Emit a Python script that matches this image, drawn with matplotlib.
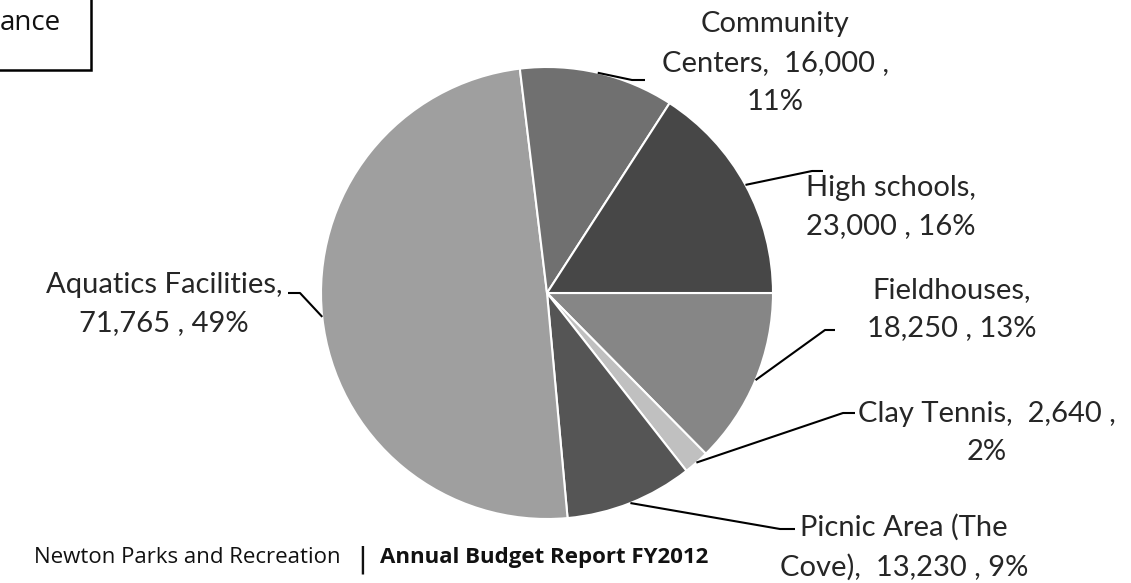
import numpy as np
import matplotlib.pyplot as plt
from matplotlib.patches import Rectangle

# data (clockwise from 3 o'clock, as in the reference)
facilities = ["Fieldhouses", "Clay Tennis", "Picnic Area (The Cove)",
              "Aquatics Facilities", "Community Centers", "High schools"]
attendance = [18250, 2640, 13230, 71765, 16000, 23000]
colors = ["#868686", "#c0c0c0", "#555555", "#9f9f9f", "#707070", "#474747"]

label_text = [
    "Fieldhouses,\n18,250 , 13%",
    "Clay Tennis,  2,640 ,\n2%",
    "Picnic Area (The\nCove),  13,230 , 9%",
    "Aquatics Facilities,\n71,765 , 49%",
    "Community\nCenters,  16,000 ,\n11%",
    "High schools,\n23,000 , 16%",
]

W, H = 1131, 583
fig = plt.figure(figsize=(W / 100, H / 100), dpi=100)
ax = fig.add_axes([0, 0, 1, 1])

cx, cy, r = 547, H - 293, 226
wedges, _ = ax.pie(attendance, colors=colors, startangle=0, counterclock=False,
                   center=(cx, cy), radius=r, frame=True,
                   wedgeprops=dict(edgecolor="white", linewidth=1.5))
ax.set_xlim(0, W)
ax.set_ylim(0, H)
ax.set_aspect("equal")
ax.axis("off")

# label layout: (text x, text y, elbow x, elbow y, end x) in pixels from top
layout = [
    (952, 309, 825, 330, 835),
    (987, 433, 843, 413, 855),
    (904, 547, 780, 529, 795),
    (164, 304, 300, 293, 288),
    (775, 63, 632, 80, 645),
    (891, 207, 812, 171, 823),
]

lab_font = dict(family=["Lato", "DejaVu Sans"], fontsize=21, weight="normal",
                color="#262626", linespacing=1.6)
for w, txt, (tx, ty, ex, ey, endx) in zip(wedges, label_text, layout):
    mid = np.deg2rad((w.theta1 + w.theta2) / 2)
    px = cx + r * np.cos(mid)
    py = cy + r * np.sin(mid)
    ax.plot([px, ex, endx], [py, H - ey, H - ey], color="black", lw=1.5,
            solid_capstyle="butt")
    ax.text(tx, H - ty, txt, ha="center", va="center", multialignment="center",
            **lab_font)

# title box, cut off at the left edge of the page
ax.add_patch(Rectangle((-10, H - 70), 101, 80, fill=False, edgecolor="black",
                       lw=1.8, clip_on=False))
ax.text(61, H - 30, "ance", ha="right", va="baseline", fontsize=20,
        family=["Open Sans", "DejaVu Sans"], color="#111111")

# footer
foot = dict(va="baseline", fontsize=16, family=["Open Sans", "DejaVu Sans"],
            color="#111111")
ax.text(34, H - 563, "Newton Parks and Recreation", ha="left", **foot)
ax.text(362, H - 567, "|", ha="center", va="baseline", fontsize=21,
        family=["DejaVu Sans"], color="#111111")
ax.text(380, H - 563, "Annual Budget Report FY2012", ha="left",
        fontweight="bold", **{k: v for k, v in foot.items()})

fig.savefig("out.png", dpi=100)
